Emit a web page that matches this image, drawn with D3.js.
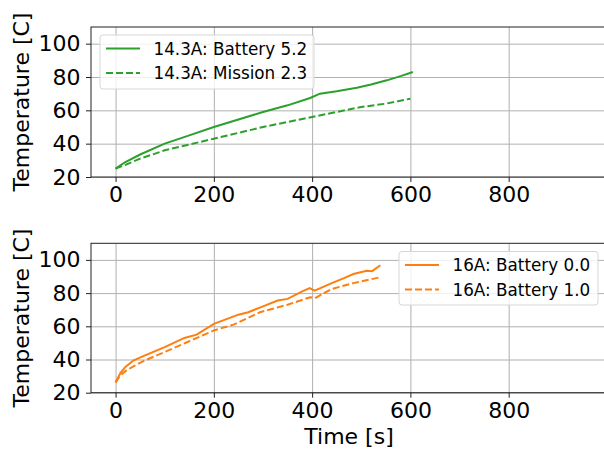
<!DOCTYPE html>
<html>
<head>
<meta charset="UTF-8">
<style>
  body { margin: 0; background: #fff; }
  svg text { font-family: "DejaVu Sans", sans-serif; fill: #000; }
  .axis path, .axis line { stroke: #222; }
  .grid line { stroke: #b0b0b0; stroke-width: 1; }
  .grid path { display: none; }
</style>
</head>
<body>
<svg id="chart" width="604" height="452"></svg>
<script src="https://cdn.jsdelivr.net/npm/d3@7"></script>
<script>
  "use strict";

  // data, [time s, temperature C]
  var bat52 = [[0,25],[10,27],[20,29],[50,33.5],[100,40],[150,45],[200,50],[250,54.5],[300,59],[350,63],[396,67.4],[416,70],[450,71.5],[491,73.6],[520,75.5],[552,78],[580,80.5],[605,83]];
  var mis23 = [[0,25],[20,27.3],[50,31],[100,36],[150,39.5],[200,43],[250,46.5],[300,50],[350,53],[400,56],[450,59],[500,62],[550,64],[575,65.5],[600,67]];
  var bat00 = [[0,26.5],[5,29],[10,32],[20,35.5],[37,39.5],[60,42.5],[100,47.5],[140,53],[165,55],[200,61.5],[250,67],[270,68.5],[300,72],[330,75.5],[350,76.5],[380,81],[395,83],[405,81.5],[440,86],[465,89],[484,91.5],[511,93.5],[522,93.2],[539,96.8]];
  var bat10 = [[0,26],[5,28.5],[10,30.5],[20,33],[37,36],[60,39.5],[100,44.5],[150,51],[200,57.5],[240,61],[294,68.5],[350,73],[396,77.5],[406,77],[440,82.5],[484,86],[539,89.6]];

  var xTicks = [0, 200, 400, 600, 800];
  var yTicks = [20, 40, 60, 80, 100];

  var panels = [
    { top: 27, bottom: 177,
      series: [
        { name: "14.3A: Battery 5.2", values: bat52, color: "#2ca02c", dash: null },
        { name: "14.3A: Mission 2.3", values: mis23, color: "#2ca02c", dash: "7,3" }
      ],
      legend: { x: 100, y: 35, w: 214, h: 54 } },
    { top: 243.3, bottom: 392.7,
      series: [
        { name: "16A: Battery 0.0", values: bat00, color: "#ff7f0e", dash: null },
        { name: "16A: Battery 1.0", values: bat10, color: "#ff7f0e", dash: "7,3" }
      ],
      legend: { x: 399, y: 251.5, w: 199, h: 53.5 } }
  ];

  var svg = d3.select("#chart");
  var left = 91, right = 604.5;
  var big = "22px";

  var x = d3.scaleLinear().domain([-50, 995]).range([left, right]);

  panels.forEach(function(p) {
    var y = d3.scaleLinear().domain([20, 110]).range([p.bottom, p.top]);
    var g = svg.append("g");

    // grid
    g.append("g").attr("class", "grid")
      .attr("transform", "translate(0," + p.bottom + ")")
      .call(d3.axisBottom(x).tickValues(xTicks).tickSize(-(p.bottom - p.top)).tickFormat(""));
    g.append("g").attr("class", "grid")
      .attr("transform", "translate(" + left + ",0)")
      .call(d3.axisLeft(y).tickValues(yTicks).tickSize(-(right - left)).tickFormat(""));

    // lines
    var line = d3.line().x(function(d){ return x(d[0]); }).y(function(d){ return y(d[1]); });
    p.series.forEach(function(s) {
      g.append("path")
        .datum(s.values)
        .attr("d", line)
        .attr("fill", "none")
        .attr("stroke", s.color)
        .attr("stroke-width", 2)
        .attr("stroke-dasharray", s.dash);
    });

    // frame
    g.append("rect")
      .attr("x", left).attr("y", p.top)
      .attr("width", right - left).attr("height", p.bottom - p.top)
      .attr("fill", "none").attr("stroke", "#222").attr("stroke-width", 1);

    // axes
    var xa = g.append("g").attr("class", "axis")
      .attr("transform", "translate(0," + p.bottom + ")")
      .call(d3.axisBottom(x).tickValues(xTicks).tickSize(5).tickPadding(4.5));
    var ya = g.append("g").attr("class", "axis")
      .attr("transform", "translate(" + left + ",0)")
      .call(d3.axisLeft(y).tickValues(yTicks).tickSize(5).tickPadding(5.5));
    [xa, ya].forEach(function(a) {
      a.select(".domain").remove();
      a.selectAll("text").style("font-size", big).attr("fill", "#000");
    });

    // y label
    svg.append("text")
      .attr("transform", "translate(28.5," + ((p.top + p.bottom) / 2) + ") rotate(-90)")
      .attr("text-anchor", "middle")
      .style("font-size", big)
      .text("Temperature [C]");

    // legend
    var L = p.legend;
    var lg = svg.append("g");
    lg.append("rect")
      .attr("x", L.x).attr("y", L.y).attr("width", L.w).attr("height", L.h)
      .attr("rx", 3)
      .attr("fill", "rgba(255,255,255,0.8)")
      .attr("stroke", "#d6d6d6").attr("stroke-width", 1);
    p.series.forEach(function(s, i) {
      var ly = L.y + 13.5 + i * 24.5;
      lg.append("line")
        .attr("x1", L.x + 6).attr("x2", L.x + 40)
        .attr("y1", ly).attr("y2", ly)
        .attr("stroke", s.color).attr("stroke-width", 2)
        .attr("stroke-dasharray", s.dash);
      lg.append("text")
        .attr("x", L.x + 53.5).attr("y", ly + 6)
        .style("font-size", "16.8px")
        .attr("fill", "#222")
        .text(s.name);
    });
  });

  svg.append("text")
    .attr("x", 349).attr("y", 444)
    .attr("text-anchor", "middle")
    .style("font-size", big)
    .text("Time [s]");
</script>
</body>
</html>
